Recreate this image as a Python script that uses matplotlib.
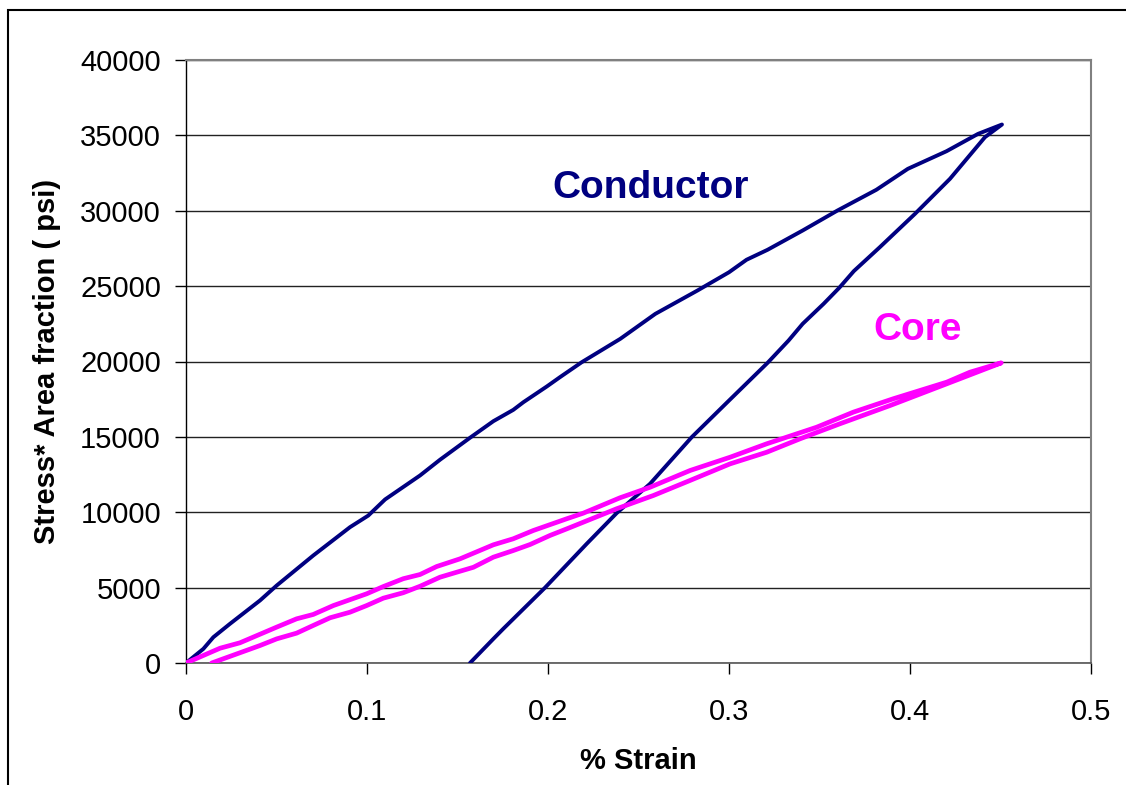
import matplotlib
matplotlib.use("Agg")
import matplotlib.pyplot as plt
from matplotlib.patches import Rectangle

# ---- data ----
cond_load_strain = [0, 0.0096, 0.0151, 0.0243, 0.0409, 0.0501, 0.0703, 0.0906, 0.1007, 0.110,
                    0.1293, 0.1403, 0.1569, 0.1698, 0.1808, 0.1864, 0.1993, 0.2066, 0.2186, 0.2399,
                    0.2593, 0.2826, 0.300, 0.3097, 0.3213, 0.3407, 0.360, 0.3814, 0.3988, 0.4202,
                    0.4376, 0.4508]
cond_load_stress = [0, 940, 1710, 2600, 4150, 5140, 7130, 9010, 9780, 10850,
                    12440, 13480, 14940, 16040, 16790, 17300, 18340, 18960, 19950, 21500,
                    23160, 24710, 25920, 26750, 27410, 28690, 30020, 31390, 32780, 33950,
                    35100, 35720]
cond_unload_strain = [0.4508, 0.4414, 0.4221, 0.4028, 0.3833, 0.3690, 0.3610, 0.3523, 0.3407, 0.3329,
                      0.3213, 0.300, 0.2794, 0.2564, 0.2379, 0.2214, 0.1983, 0.1753, 0.1698, 0.1569]
cond_unload_stress = [35720, 34880, 32120, 29800, 27580, 26000, 24900, 23830, 22500, 21390,
                      19910, 17410, 14980, 11890, 9940, 7910, 4990, 2270, 1600, 0]

core_load_strain = [0, 0.0188, 0.0298, 0.0501, 0.0611, 0.0703, 0.0814, 0.0998, 0.109, 0.12,
                    0.1293, 0.1385, 0.1514, 0.1698, 0.1808, 0.1919, 0.2104, 0.2195, 0.2398, 0.2564,
                    0.2785, 0.3006, 0.3208, 0.3484, 0.3687, 0.3908, 0.4203, 0.4331, 0.4504]
core_load_stress = [0, 980, 1340, 2380, 2930, 3220, 3810, 4590, 5070, 5590,
                    5870, 6400, 6910, 7840, 8240, 8790, 9570, 9940, 10960, 11660,
                    12770, 13650, 14540, 15640, 16640, 17530, 18630, 19290, 19910]
core_unload_strain = [0.4504, 0.4203, 0.3890, 0.3613, 0.3392, 0.3208, 0.3006, 0.2785, 0.2582, 0.2379,
                      0.2195, 0.2104, 0.2011, 0.1901, 0.1808, 0.1698, 0.1588, 0.1495, 0.1403, 0.1293,
                      0.12, 0.109, 0.0998, 0.0906, 0.0796, 0.0703, 0.0611, 0.0501, 0.0409, 0.0206,
                      0.0142]
core_unload_stress = [19910, 18520, 17080, 15870, 14870, 13980, 13210, 12110, 11110, 10230,
                      9340, 8900, 8460, 7860, 7460, 7020, 6350, 6020, 5690, 5090,
                      4660, 4300, 3810, 3370, 3000, 2490, 1980, 1600, 1160, 280,
                      0]

x_ticks = [0, 0.1, 0.2, 0.3, 0.4, 0.5]
x_tick_labels = ["0", "0.1", "0.2", "0.3", "0.4", "0.5"]
y_ticks = [0, 5000, 10000, 15000, 20000, 25000, 30000, 35000, 40000]
y_tick_labels = [str(v) for v in y_ticks]

plt.rcParams['font.family'] = ['Liberation Sans', 'DejaVu Sans']

W, H = 1126, 785
fig = plt.figure(figsize=(W / 100, H / 100), dpi=100)
fig.patch.set_facecolor('white')

# outer chart frame (cut off at right and bottom)
fig.patches.append(Rectangle((8 / W, -0.1), 1.2, 1.1 - 9.5 / H, transform=fig.transFigure,
                             fill=False, edgecolor='black', linewidth=1.5))

ax = fig.add_axes([186 / W, 1 - 663 / H, (1091 - 186) / W, (663 - 60) / H])

navy = '#000080'
magenta = '#FF00FF'

ax.plot(cond_load_strain + cond_unload_strain, cond_load_stress + cond_unload_stress,
        color=navy, linewidth=2.8, solid_joinstyle='round', solid_capstyle='round', zorder=3)
ax.plot(core_load_strain + core_unload_strain, core_load_stress + core_unload_stress,
        color=magenta, linewidth=3.4, solid_joinstyle='round', solid_capstyle='round', zorder=3)

ax.set_xlim(0, 0.5)
ax.set_ylim(0, 40000)
ax.set_xticks(x_ticks)
ax.set_xticklabels(x_tick_labels)
ax.set_yticks(y_ticks)
ax.set_yticklabels(y_tick_labels)

ax.grid(axis='y', color='#222222', linewidth=1.0)
ax.set_axisbelow(True)

for s in ['top', 'right']:
    ax.spines[s].set_color('#808080')
    ax.spines[s].set_linewidth(1.5)
ax.spines['left'].set_color('black')
ax.spines['left'].set_linewidth(1.0)
ax.spines['bottom'].set_color('#555555')
ax.spines['bottom'].set_linewidth(1.2)

ax.tick_params(axis='both', direction='out', length=8, width=1.0, labelsize=21, colors='black')
ax.tick_params(axis='y', pad=10)
ax.tick_params(axis='x', pad=17)

ax.set_xlabel('% Strain', fontsize=21, fontweight='bold', labelpad=15)
ax.set_ylabel('Stress* Area fraction ( psi)', fontsize=21, fontweight='bold', labelpad=14)

ax.text(0.2025, 31500, 'Conductor', color=navy, fontsize=28, fontweight='bold',
        ha='left', va='center')
ax.text(0.3795, 22100, 'Core', color=magenta, fontsize=28, fontweight='bold',
        ha='left', va='center')

fig.savefig('out.png', dpi=100)
